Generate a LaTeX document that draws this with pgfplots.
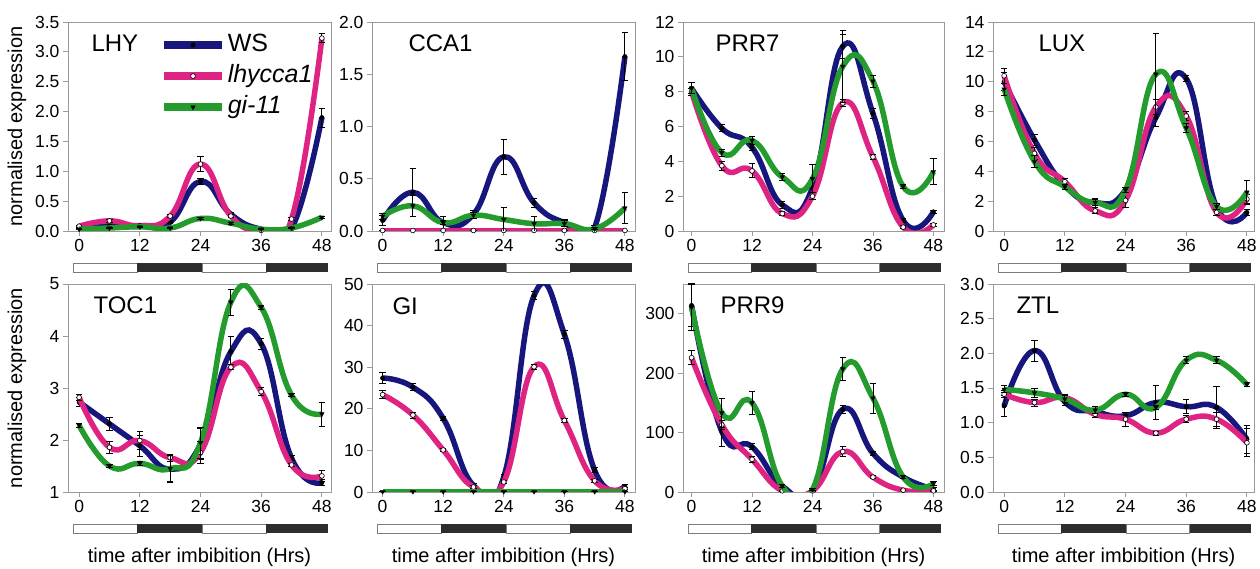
\documentclass[border=0pt]{standalone}
\usepackage{fontspec}
\setmainfont{Liberation Sans}
\usepackage{pgfplots}
\pgfplotsset{compat=1.18}
\definecolor{wsblue}{RGB}{22,22,125}
\definecolor{lhypink}{RGB}{222,35,130}
\definecolor{gigreen}{RGB}{35,155,45}
\definecolor{axgray}{RGB}{155,155,155}
\definecolor{darkbar}{RGB}{45,45,45}

\newcommand\ldbar{%
\draw[axgray!80!black, line width=0.7pt, fill=white] ([yshift=-32pt]rel axis cs:0.019,0) rectangle ([yshift=-41pt]rel axis cs:0.262,0);
\draw[axgray!80!black, line width=0.7pt, fill=white] ([yshift=-32pt]rel axis cs:0.509,0) rectangle ([yshift=-41pt]rel axis cs:0.753,0);
\fill[darkbar] ([yshift=-32pt]rel axis cs:0.262,0) rectangle ([yshift=-41pt]rel axis cs:0.509,0);
\fill[darkbar] ([yshift=-32pt]rel axis cs:0.753,0) rectangle ([yshift=-41pt]rel axis cs:0.99,0);
}
\newcommand\ptitle[2]{\node[anchor=base west, font=\fontsize{24}{24}\selectfont] at ([xshift=#1, yshift=-30pt]rel axis cs:0,1) {#2};}

\pgfplotsset{
 panel/.style={scale only axis, clip mode=individual,
   axis line style={axgray, line width=0.9pt},
   tick style={axgray, line width=0.9pt},
   tick align=outside, major tick length=5pt,
   xtick={0,12,24,36,48}, xtick pos=bottom, ytick pos=left,
   ticklabel style={font=\fontsize{17.5}{18}\selectfont},
   /pgf/number format/assume math mode=true,
   every axis y label/.style={at={(axis description cs:-0.194,0.5)}, rotate=90, anchor=center, font=\fontsize{20}{20}\selectfont},
   every axis x label/.style={at={(axis description cs:0.5,0)}, yshift=-65pt, anchor=center, font=\fontsize{20}{20}\selectfont}},
 onedec/.style={yticklabel style={/pgf/number format/.cd, fixed, fixed zerofill, precision=1}},
 ser/.style={line width=5.5pt, smooth, tension=0.8,
   error bars/y dir=both, error bars/y explicit,
   error bars/error bar style={black, line width=0.9pt, solid},
   error bars/error mark options={rotate=90, black, mark size=3.2pt, line width=0.9pt}},
 ws/.style={ser, color=wsblue, mark=*, mark options={fill=black, draw=black, line width=0.4pt, mark size=2.2pt}},
 lhy/.style={ser, color=lhypink, mark=*, mark options={fill=white, draw=black, line width=0.6pt, mark size=2.4pt}},
 gi/.style={ser, color=gigreen, mark=triangle*, mark options={fill=black, draw=black, rotate=180, line width=0.4pt, mark size=2.6pt}},
}

\begin{document}
\begin{tikzpicture}
\useasboundingbox (0,0) rectangle (1260pt,569pt);

% ---------- LHY ----------
\begin{axis}[panel, onedec, at={(68pt,338pt)}, anchor=south west, width=263pt, height=209pt,
  xmin=-2.2, xmax=49.8, ymin=0, ymax=3.5, ytick={0,0.5,1,1.5,2,2.5,3,3.5},
  ylabel={normalised expression},
  legend style={at={(0.35,0.955)}, anchor=north west, draw=none, fill=none,
    font=\fontsize{25}{25}\selectfont, row sep=4pt, inner sep=0pt,
    nodes={text height=18pt, text depth=5pt, inner sep=2pt}},
  legend cell align=left,
  legend image code/.code={\draw[#1, line width=7.5pt, mark repeat=2, mark phase=2] plot coordinates {(0pt,0pt) (29pt,0pt) (58pt,0pt)};}]
\addplot[ws] table[row sep=\\, y error index=2] {0 0.05 0.02\\ 6 0.10 0.02\\ 12 0.08 0.02\\ 18 0.15 0.02\\ 24 0.83 0.05\\ 30 0.28 0.03\\ 36 0.03 0.01\\ 42 0.04 0.02\\ 48 1.90 0.16\\};
\addlegendentry{WS}
\addplot[lhy] table[row sep=\\, y error index=2] {0 0.08 0.02\\ 6 0.17 0.02\\ 12 0.09 0.02\\ 18 0.25 0.02\\ 24 1.12 0.13\\ 30 0.25 0.03\\ 36 0.01 0.01\\ 42 0.20 0.02\\ 48 3.23 0.08\\};
\addlegendentry{\textit{lhycca1}}
\addplot[gi] table[row sep=\\, y error index=2] {0 0.03 0.01\\ 6 0.05 0.01\\ 12 0.07 0.01\\ 18 0.05 0.01\\ 24 0.21 0.02\\ 30 0.13 0.02\\ 36 0.03 0.01\\ 42 0.05 0.01\\ 48 0.23 0.02\\};
\addlegendentry{\textit{gi-11}}
\ptitle{20pt}{LHY}
\ldbar
\end{axis}

% ---------- CCA1 ----------
\begin{axis}[panel, onedec, at={(372pt,338pt)}, anchor=south west, width=263pt, height=209pt,
  xmin=-2.1, xmax=50, ymin=0, ymax=2, ytick={0,0.5,1,1.5,2}]
\addplot[ws] table[row sep=\\, y error index=2] {0 0.10 0.05\\ 6 0.37 0.23\\ 12 0.08 0.06\\ 18 0.16 0.04\\ 24 0.71 0.17\\ 30 0.27 0.04\\ 36 0.08 0.03\\ 42 0.03 0.02\\ 48 1.67 0.23\\};
\addplot[lhy] table[row sep=\\, y error index=2] {0 0.005 0\\ 6 0.005 0\\ 12 0.005 0\\ 18 0.005 0\\ 24 0.005 0\\ 30 0.005 0\\ 36 0.005 0\\ 42 0.005 0\\ 48 0.005 0\\};
\addplot[gi] table[row sep=\\, y error index=2] {0 0.14 0.03\\ 6 0.24 0.10\\ 12 0.08 0.02\\ 18 0.15 0.03\\ 24 0.11 0.12\\ 30 0.07 0.07\\ 36 0.07 0.03\\ 42 0.02 0.01\\ 48 0.22 0.15\\};
\ptitle{33pt}{CCA1}
\ldbar
\end{axis}

% ---------- PRR7 ----------
\begin{axis}[panel, at={(683pt,338pt)}, anchor=south west, width=261pt, height=209pt,
  xmin=-1.7, xmax=50.1, ymin=0, ymax=12, ytick={0,2,4,6,8,10,12}]
\addplot[ws] table[row sep=\\, y error index=2] {0 8.2 0.3\\ 6 5.9 0.2\\ 12 4.8 0.2\\ 18 1.5 0.2\\ 24 2.5 0.3\\ 30 10.6 0.7\\ 36 6.75 0.3\\ 42 0.6 0.1\\ 48 1.1 0.1\\};
\addplot[lhy] table[row sep=\\, y error index=2] {0 8.0 0.2\\ 6 3.75 0.25\\ 12 3.45 0.4\\ 18 1.0 0.1\\ 24 2.0 0.2\\ 30 7.35 0.2\\ 36 4.25 0.15\\ 42 0.22 0.1\\ 48 0.35 0.1\\};
\addplot[gi] table[row sep=\\, y error index=2] {0 8.2 0.3\\ 6 4.5 0.2\\ 12 5.2 0.25\\ 18 3.1 0.2\\ 24 3.0 0.8\\ 30 9.45 2.05\\ 36 8.6 0.35\\ 42 2.55 0.1\\ 48 3.4 0.75\\};
\ptitle{29pt}{PRR7}
\ldbar
\end{axis}

% ---------- LUX ----------
\begin{axis}[panel, at={(993pt,338pt)}, anchor=south west, width=261pt, height=209pt,
  xmin=-2.2, xmax=49.4, ymin=0, ymax=14, ytick={0,2,4,6,8,10,12,14}]
\addplot[ws] table[row sep=\\, y error index=2] {0 10.0 0.6\\ 6 6.1 0.4\\ 12 3.05 0.2\\ 18 1.9 0.3\\ 24 2.75 0.2\\ 30 7.6 0.6\\ 36 10.2 0.2\\ 42 1.6 0.2\\ 48 1.25 0.2\\};
\addplot[lhy] table[row sep=\\, y error index=2] {0 10.4 0.5\\ 6 5.2 0.4\\ 12 3.3 0.2\\ 18 1.35 0.2\\ 24 2.05 0.5\\ 30 8.3 0.5\\ 36 7.7 0.3\\ 42 1.25 0.2\\ 48 2.15 0.3\\};
\addplot[gi] table[row sep=\\, y error index=2] {0 9.5 0.4\\ 6 4.65 0.4\\ 12 2.95 0.2\\ 18 1.9 0.2\\ 24 2.75 0.2\\ 30 10.5 2.7\\ 36 6.9 0.3\\ 42 1.65 0.2\\ 48 2.6 0.8\\};
\ptitle{42pt}{LUX}
\ldbar
\end{axis}

% ---------- TOC1 ----------
\begin{axis}[panel, at={(68pt,77pt)}, anchor=south west, width=263pt, height=208pt,
  xmin=-2.2, xmax=49.8, ymin=1, ymax=5, ytick={1,2,3,4,5},
  ylabel={normalised expression}, xlabel={time after imbibition (Hrs)}]
\addplot[ws] table[row sep=\\, y error index=2] {0 2.73 0.08\\ 6 2.31 0.12\\ 12 1.89 0.2\\ 18 1.44 0.25\\ 24 1.92 0.3\\ 30 3.7 0.3\\ 36 3.85 0.1\\ 42 1.65 0.05\\ 48 1.18 0.06\\};
\addplot[lhy] table[row sep=\\, y error index=2] {0 2.82 0.06\\ 6 1.86 0.12\\ 12 1.99 0.18\\ 18 1.66 0.07\\ 24 1.76 0.22\\ 30 3.4 0.05\\ 36 2.93 0.08\\ 42 1.52 0.03\\ 48 1.31 0.1\\};
\addplot[gi] table[row sep=\\, y error index=2] {0 2.28 0.03\\ 6 1.5 0.03\\ 12 1.55 0.03\\ 18 1.45 0.25\\ 24 1.95 0.3\\ 30 4.65 0.25\\ 36 4.55 0.03\\ 42 2.86 0.03\\ 48 2.5 0.23\\};
\ptitle{22pt}{TOC1}
\ldbar
\end{axis}

% ---------- GI ----------
\begin{axis}[panel, at={(372pt,77pt)}, anchor=south west, width=263pt, height=208pt,
  xmin=-2.1, xmax=50, ymin=0, ymax=50, ytick={0,10,20,30,40,50},
  xlabel={time after imbibition (Hrs)}]
\addplot[ws] table[row sep=\\, y error index=2] {0 27.4 1.3\\ 6 25.2 0.8\\ 12 17.7 0.5\\ 18 1.6 0.4\\ 24 3.6 0.5\\ 30 47.2 1.0\\ 36 37.9 1.0\\ 42 5.2 0.6\\ 48 1.4 0.4\\};
\addplot[lhy] table[row sep=\\, y error index=2] {0 23.4 1.0\\ 6 18.5 0.7\\ 12 10.1 0.4\\ 18 1.2 0.3\\ 24 2.4 0.4\\ 30 30.1 0.6\\ 36 17.2 0.4\\ 42 2.7 0.3\\ 48 0.8 0.3\\};
\addplot[gi] table[row sep=\\, y error index=2] {0 0.1 0\\ 6 0.1 0\\ 12 0.1 0\\ 18 0.1 0\\ 24 0.1 0\\ 30 0.1 0\\ 36 0.1 0\\ 42 0.1 0\\ 48 0.1 0\\};
\ptitle{17pt}{GI}
\ldbar
\end{axis}

% ---------- PRR9 ----------
\begin{axis}[panel, at={(683pt,77pt)}, anchor=south west, width=261pt, height=208pt,
  xmin=-1.7, xmax=50.1, ymin=0, ymax=350, ytick={0,100,200,300},
  xlabel={time after imbibition (Hrs)}]
\addplot[ws] table[row sep=\\, y error index=2] {0 314 35\\ 6 102 25\\ 12 76 5\\ 18 10 3\\ 24 3 2\\ 30 139 6\\ 36 65 4\\ 42 25 3\\ 48 5 2\\};
\addplot[lhy] table[row sep=\\, y error index=2] {0 226 12\\ 6 113 8\\ 12 55 5\\ 18 2 1\\ 24 2 1\\ 30 68 8\\ 36 25 3\\ 42 3 1\\ 48 2 1\\};
\addplot[gi] table[row sep=\\, y error index=2] {0 311 40\\ 6 133 25\\ 12 150 20\\ 18 10 3\\ 24 4 2\\ 30 207 20\\ 36 158 25\\ 42 25 3\\ 48 14 3\\};
\ptitle{34pt}{PRR9}
\ldbar
\end{axis}

% ---------- ZTL ----------
\begin{axis}[panel, onedec, at={(993pt,77pt)}, anchor=south west, width=261pt, height=208pt,
  xmin=-2.2, xmax=49.4, ymin=0, ymax=3, ytick={0,0.5,1,1.5,2,2.5,3},
  xlabel={time after imbibition (Hrs)}]
\addplot[ws] table[row sep=\\, y error index=2] {0 1.24 0.15\\ 6 2.04 0.15\\ 12 1.3 0.05\\ 18 1.16 0.05\\ 24 1.1 0.05\\ 30 1.29 0.25\\ 36 1.23 0.1\\ 42 1.22 0.3\\ 48 0.76 0.2\\};
\addplot[lhy] table[row sep=\\, y error index=2] {0 1.41 0.05\\ 6 1.29 0.05\\ 12 1.36 0.05\\ 18 1.12 0.05\\ 24 1.05 0.1\\ 30 0.85 0.03\\ 36 1.05 0.05\\ 42 1.05 0.1\\ 48 0.71 0.2\\};
\addplot[gi] table[row sep=\\, y error index=2] {0 1.48 0.05\\ 6 1.43 0.07\\ 12 1.34 0.05\\ 18 1.18 0.05\\ 24 1.41 0.03\\ 30 1.22 0.03\\ 36 1.9 0.05\\ 42 1.9 0.05\\ 48 1.55 0.03\\};
\ptitle{20pt}{ZTL}
\ldbar
\end{axis}
\end{tikzpicture}
\end{document}
